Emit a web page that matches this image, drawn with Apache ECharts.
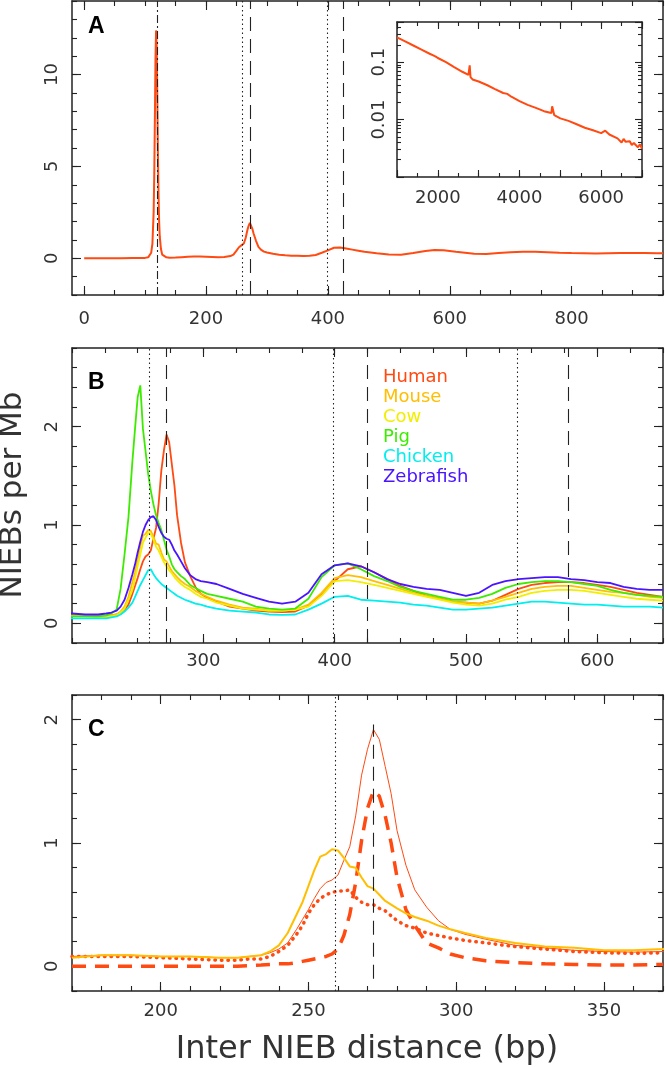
<!DOCTYPE html>
<html><head><meta charset="utf-8">
<script src="https://cdn.jsdelivr.net/npm/echarts@6/dist/echarts.min.js"></script>
<style>html,body{margin:0;padding:0;background:#fff}#c{width:665px;height:1067px}</style>
</head><body><div id="c"></div>
<script>
// ================= DATA =================
// Panel A: human inter-NIEB distance distribution (0-950 bp)
const distA = [0,20,40,60,80,90,100,105,108,110,112,114,115,116,117,118,119,120,121,122,123,124,126,128,130,135,140,150,160,170,180,190,200,210,220,230,240,245,250,254,258,262,265,268,270,272,274,276,278,282,286,290,295,300,310,320,330,340,350,360,370,380,390,400,410,420,430,440,450,460,480,500,520,540,560,575,590,610,640,660,680,700,720,740,760,780,800,820,840,860,880,900,920,940,950];
const nieba = [0,0,0,0,0.01,0.01,0.02,0.05,0.15,0.3,0.8,2.5,4.5,7.5,10.8,12.4,11.5,8.8,5.8,3.5,2.0,1.2,0.5,0.2,0.1,0.05,0.03,0.04,0.06,0.08,0.09,0.09,0.08,0.07,0.06,0.07,0.12,0.2,0.42,0.6,0.7,0.8,1.1,1.55,1.78,1.93,1.85,1.6,1.35,0.95,0.62,0.47,0.36,0.31,0.24,0.19,0.16,0.14,0.13,0.12,0.13,0.18,0.3,0.43,0.57,0.58,0.53,0.47,0.41,0.35,0.27,0.2,0.19,0.28,0.4,0.45,0.43,0.35,0.25,0.23,0.28,0.33,0.36,0.36,0.33,0.3,0.28,0.27,0.26,0.27,0.28,0.29,0.28,0.27,0.27];
// Panel A inset: long range tail (log scale)
const distInset = [1000,1200,1400,1600,1800,1900,1920,1950,2000,2200,2400,2600,2750,2780,2800,2850,3000,3200,3400,3600,3700,3800,4000,4200,4400,4600,4780,4800,4850,5000,5200,5400,5600,5800,6000,6100,6200,6400,6500,6550,6600,6700,6750,6800,6900,6950,7000];
const niebInset = [0.27,0.23,0.195,0.165,0.14,0.13,0.14,0.125,0.118,0.1,0.082,0.068,0.06,0.088,0.055,0.05,0.046,0.04,0.034,0.029,0.028,0.025,0.021,0.018,0.016,0.014,0.013,0.017,0.012,0.0105,0.0095,0.0083,0.0072,0.0065,0.0058,0.0064,0.0055,0.0047,0.004,0.0046,0.0041,0.0042,0.0036,0.0039,0.0033,0.0037,0.0031];

// Panels B and C: shared distance grid
const dist = [170,180,190,200,210,220,226,230,234,237,240,243,246,248,250,252,254,256,258,260,262,264,266,268,270,272,274,276,278,280,283,286,290,294,298,303,310,320,330,340,350,360,370,380,390,400,410,420,430,440,450,460,470,480,490,500,510,520,530,540,550,560,570,580,590,600,610,620,630,640,650];
const human = [0.08,0.09,0.09,0.08,0.08,0.07,0.07,0.08,0.09,0.11, 0.14,0.19,0.30,0.38,0.46,0.55,0.63,0.68,0.70,0.74,0.86,0.97,1.22,1.55,1.76,1.92,1.84,1.62,1.40,1.10, 0.82,0.62,0.48,0.37,0.30,0.26, 0.22,0.17,0.15,0.13,0.12,0.115,0.12,0.18,0.29,0.43, 0.55,0.58,0.52,0.45,0.38,0.33,0.28,0.25,0.22,0.21, 0.20,0.23,0.29,0.35,0.39,0.41,0.42,0.42,0.41,0.39, 0.37,0.34,0.31,0.29,0.27];
const mouse = [0.07,0.09,0.09,0.08,0.08,0.07,0.07,0.08,0.09,0.12, 0.17,0.27,0.42,0.52,0.65,0.78,0.89,0.91,0.95,0.94,0.88,0.81,0.80,0.72,0.65,0.63,0.58,0.53,0.50,0.47, 0.43,0.40,0.37,0.33,0.30,0.27, 0.23,0.19,0.16,0.15,0.13,0.13,0.14,0.19,0.31,0.46, 0.49,0.47,0.43,0.39,0.35,0.31,0.28,0.25,0.22,0.21, 0.20,0.23,0.27,0.31,0.35,0.37,0.38,0.38,0.36,0.34, 0.32,0.31,0.29,0.27,0.26];
const cow = [0.06,0.07,0.07,0.07,0.07,0.06,0.06,0.07,0.08,0.11, 0.15,0.24,0.34,0.46,0.58,0.70,0.82,0.87,0.92,0.91,0.85,0.78,0.74,0.68,0.62,0.58,0.54,0.51,0.47,0.44, 0.40,0.37,0.34,0.30,0.27,0.25, 0.21,0.18,0.15,0.14,0.13,0.13,0.14,0.17,0.28,0.43, 0.44,0.42,0.39,0.36,0.33,0.30,0.27,0.24,0.21,0.19, 0.18,0.20,0.24,0.27,0.31,0.33,0.34,0.34,0.33,0.31, 0.29,0.27,0.25,0.24,0.23];
const pig = [0.07,0.07,0.07,0.07,0.07,0.07,0.08,0.10,0.14,0.35, 0.70,1.08,1.65,1.98,2.30,2.42,1.98,1.75,1.52,1.35,1.21,1.10,1.02,0.95,0.85,0.75,0.68,0.60,0.55,0.52, 0.48,0.45,0.39,0.36,0.33,0.30, 0.28,0.25,0.22,0.17,0.15,0.14,0.15,0.25,0.47,0.59, 0.61,0.55,0.48,0.43,0.37,0.33,0.30,0.27,0.24,0.24, 0.26,0.30,0.36,0.40,0.42,0.43,0.43,0.42,0.40,0.38, 0.34,0.31,0.29,0.28,0.27];
const chicken = [0.05,0.05,0.05,0.05,0.05,0.05,0.05,0.06,0.07,0.09, 0.12,0.16,0.21,0.27,0.33,0.39,0.44,0.49,0.54,0.55,0.50,0.46,0.43,0.40,0.38,0.36,0.34,0.32,0.30,0.28, 0.26,0.24,0.22,0.20,0.19,0.17, 0.15,0.13,0.12,0.11,0.09,0.085,0.09,0.14,0.20,0.27, 0.28,0.24,0.23,0.22,0.21,0.19,0.18,0.16,0.14,0.14, 0.15,0.16,0.18,0.20,0.22,0.22,0.21,0.20,0.19,0.19, 0.18,0.17,0.17,0.17,0.16];
const zebrafish = [0.10,0.10,0.10,0.10,0.09,0.09,0.10,0.11,0.13,0.17, 0.24,0.36,0.50,0.60,0.72,0.83,0.93,1.00,1.05,1.08,1.09,1.05,0.98,0.92,0.88,0.86,0.85,0.80,0.74,0.70, 0.63,0.56,0.49,0.45,0.43,0.42, 0.40,0.35,0.30,0.26,0.22,0.20,0.22,0.31,0.50,0.59, 0.61,0.58,0.52,0.45,0.40,0.37,0.35,0.34,0.31,0.28, 0.31,0.39,0.43,0.45,0.46,0.47,0.47,0.45,0.44,0.42, 0.41,0.37,0.35,0.34,0.34];
// Panel C extra human subsets (170-370 bp, first 43 grid points)
const humanDotted = [0.08,0.08,0.08,0.07,0.06,0.05,0.05,0.06,0.06,0.08, 0.12,0.17,0.26,0.33,0.43,0.50,0.55,0.58,0.60,0.61,0.61,0.62,0.56,0.52,0.50,0.50,0.47,0.45,0.41,0.37, 0.33,0.31,0.27,0.25,0.23,0.21, 0.19,0.16,0.14,0.12,0.11,0.105,0.11];
const humanDashed = [0.0,0.0,0.0,0.0,0.0,0.0,0.0,0.005,0.01,0.015, 0.02,0.02,0.03,0.04,0.05,0.06,0.07,0.08,0.10,0.14,0.25,0.42,0.68,1.02,1.28,1.42,1.38,1.22,1.00,0.72, 0.46,0.33,0.19,0.15,0.10,0.07, 0.045,0.03,0.02,0.015,0.01,0.01,0.015];

const speciesNames = ['Human','Mouse','Cow','Pig','Chicken','Zebrafish'];
// reference positions (bp)
const refDashDotA = [120];
const refDottedA = [259, 399];
const refDashedA = [272, 425];
const refDottedB = [259, 399, 539];
const refDashedB = [272, 425, 578];
const refDottedC = [259];
const refDashedC = [272];
const refDashedCSpan = [-0.1, 1.96];
// tick labels
const aXLabels = [0,200,400,600,800];
const aYLabels = [0,5,10];
const inXLabels = [2000,4000,6000];
const inYLabels = [0.01,0.1];
const bXLabels = [300,400,500,600];
const bYLabels = [0,1,2];
const cXLabels = [200,250,300,350];
const cYLabels = [0,1,2];

// ================= STYLE / BUILD =================
const FRAME = '#222', TXT = '#333', FONT = 'DejaVu Sans';
const COLORS = {Human:'#FF4A12', Mouse:'#FFBE00', Cow:'#F2EE00', Pig:'#3CEB00', Chicken:'#00EEEE', Zebrafish:'#4A14FF'};
const ORANGE = '#FF4A12';
const speciesData = {Human:human, Mouse:mouse, Cow:cow, Pig:pig, Chicken:chicken, Zebrafish:zebrafish};

function range(a,b,s){const r=[];for(let v=a;v<=b+1e-9;v+=s)r.push(Math.round(v*1000)/1000);return r;}
function zip(xs, ys){return ys.map((y,i)=>[xs[i], y]);}

const xAxes = [], yAxes = [];
function sideAxes(arr, dir, gi, min, max, majors, minors, labels, lab, lens){
  const pos = dir==='x' ? ['bottom','top'] : ['left','right'];
  const mainIndex = arr.length;
  pos.forEach((p,k)=>{
    arr.push({type:'value', gridIndex:gi, position:p, min, max,
      axisLine:{show:true, onZero:false, lineStyle:{color:FRAME, width:1.5}},
      axisTick:{show:true, inside:true, length:lens[0], customValues:majors, lineStyle:{color:FRAME, width:1.1}},
      axisLabel: k===0 ? Object.assign({show:true, customValues:labels, color:TXT, fontFamily:FONT, fontSize:18, formatter:v=>String(v)}, lab) : {show:false},
      splitLine:{show:false}});
    arr.push({type:'value', gridIndex:gi, position:p, min, max,
      axisLine:{show:false, onZero:false},
      axisTick:{show:true, inside:true, length:lens[1], customValues:minors, lineStyle:{color:FRAME, width:1.1}},
      axisLabel:{show:false}, splitLine:{show:false}});
  });
  return mainIndex;
}

const grids = [
  {left:72, top:1, width:591, height:294},    // A
  {left:397, top:22, width:245, height:155},  // inset
  {left:72, top:348, width:591, height:295},  // B
  {left:72, top:695, width:591, height:296}   // C
].map(g=>Object.assign({outerBoundsMode:'none', containLabel:false}, g));

const yLab = {rotate:90, margin:11};
// A
const axA = sideAxes(xAxes,'x',0,-20,950,aXLabels,range(0,950,50),aXLabels,{margin:15},[9,5]);
const ayA = sideAxes(yAxes,'y',0,-2,14,aYLabels,range(-2,14,1),aYLabels,yLab,[9,5]);
// inset
const axIn = sideAxes(xAxes,'x',1,1000,7000,range(1000,7000,1000),range(1000,7000,500),inXLabels,{margin:12},[7,4]);
const ayIn = yAxes.length;
['left','right'].forEach((p,k)=>{
  yAxes.push({type:'log', logBase:10, gridIndex:1, position:p, min:0.001, max:0.5,
    axisLine:{show:true, onZero:false, lineStyle:{color:FRAME, width:1.5}},
    axisTick:{show:true, inside:true, length:7, lineStyle:{color:FRAME, width:1.1}},
    minorTick:{show:true, splitNumber:9, length:4, lineStyle:{color:FRAME, width:1.1}},
    axisLabel: k===0 ? {show:true, rotate:90, margin:9, color:TXT, fontFamily:FONT, fontSize:18,
      formatter:v=>{const m=inYLabels.find(t=>Math.abs(Math.log10(v)-Math.log10(t))<1e-6);return m===undefined?'':String(m);}} : {show:false},
    splitLine:{show:false}, minorSplitLine:{show:false}});
});
// B
const axB = sideAxes(xAxes,'x',2,200,650,bXLabels,range(200,650,25),bXLabels,{margin:9},[9,5]);
const ayB = sideAxes(yAxes,'y',2,-0.2,2.8,bYLabels,range(-0.2,2.8,0.2),bYLabels,yLab,[9,5]);
// C
const axC = sideAxes(xAxes,'x',3,170,370,cXLabels,range(170,370,10),cXLabels,{margin:11},[9,5]);
const ayC = sideAxes(yAxes,'y',3,-0.2,2.2,cYLabels,range(-0.2,2.2,0.2),cYLabels,yLab,[9,5]);

const DOT = [1.5,3], DASH = [14,8], DASHDOT = [8,3,2,3];
function vline(x, type){return {xAxis:x, lineStyle:{type, color:FRAME, width:1.1}};}
const mlBase = {silent:true, symbol:['none','none'], label:{show:false}, animation:false};

const series = [];
series.push({type:'line', name:'A', xAxisIndex:axA, yAxisIndex:ayA, data:zip(distA,nieba), showSymbol:false, symbol:'none',
  lineStyle:{color:ORANGE, width:2}, z:3,
  markLine:Object.assign({data:[...refDashDotA.map(x=>vline(x,DASHDOT)), ...refDottedA.map(x=>vline(x,DOT)), ...refDashedA.map(x=>vline(x,DASH))]}, mlBase)});
series.push({type:'line', name:'Inset', xAxisIndex:axIn, yAxisIndex:ayIn, data:zip(distInset,niebInset), showSymbol:false, symbol:'none',
  lineStyle:{color:ORANGE, width:2}});
speciesNames.forEach((n,i)=>{
  const s = {type:'line', name:n, xAxisIndex:axB, yAxisIndex:ayB, data:zip(dist,speciesData[n]), showSymbol:false, symbol:'none',
    lineStyle:{color:COLORS[n], width:1.8}, itemStyle:{color:COLORS[n]}};
  if(i===0) s.markLine = Object.assign({data:[...refDottedB.map(x=>vline(x,DOT)), ...refDashedB.map(x=>vline(x,DASH))]}, mlBase);
  series.push(s);
});
const distC = dist.slice(0, humanDashed.length);
series.push({type:'line', name:'C dashed', xAxisIndex:axC, yAxisIndex:ayC, data:zip(distC,humanDashed), showSymbol:false, symbol:'none',
  lineStyle:{color:ORANGE, width:3.5, type:[14,9]},
  markLine:Object.assign({data:[...refDottedC.map(x=>vline(x,DOT)),
    ...refDashedC.map(x=>[{coord:[x,refDashedCSpan[0]], lineStyle:{type:DASH,color:FRAME,width:1.1}},{coord:[x,refDashedCSpan[1]]}])]}, mlBase)});
series.push({type:'line', name:'C dotted', xAxisIndex:axC, yAxisIndex:ayC, data:zip(distC,humanDotted), showSymbol:false, symbol:'none',
  lineStyle:{color:ORANGE, width:3.5, type:[0.5,6], cap:'round'}});
series.push({type:'line', name:'C human', xAxisIndex:axC, yAxisIndex:ayC, data:zip(dist,human), showSymbol:false, symbol:'none',
  lineStyle:{color:ORANGE, width:1}});
series.push({type:'line', name:'C mouse', xAxisIndex:axC, yAxisIndex:ayC, data:zip(dist,mouse), showSymbol:false, symbol:'none',
  lineStyle:{color:COLORS.Mouse, width:2}});

function label(t, x, y, size, bold){return {type:'text', x, y, style:{text:t, fill:'#000', font:(bold?'bold ':'')+size+'px "Liberation Sans", Arial', textAlign:'left', textVerticalAlign:'middle'}};}

const option = {
  animation:false,
  grid:grids, xAxis:xAxes, yAxis:yAxes, series,
  legend:{orient:'vertical', left:377, top:367, padding:0, itemGap:0, itemWidth:0, itemHeight:0, selectedMode:false,
    itemStyle:{opacity:0}, lineStyle:{opacity:0},
    textStyle:{fontFamily:FONT, fontSize:18, lineHeight:20, padding:0},
    data:speciesNames.map(n=>({name:n, textStyle:{color:COLORS[n]}}))},
  graphic:[
    label('A', 88, 27, 23, true), label('B', 88, 383, 23, true), label('C', 88, 730, 23, true),
    {type:'text', x:13, y:495, rotation:Math.PI/2, style:{text:'NIEBs per Mb', fill:TXT, font:'31px "DejaVu Sans"', textAlign:'center', textVerticalAlign:'middle'}},
    {type:'text', x:367, y:1050, style:{text:'Inter NIEB distance (bp)', fill:TXT, font:'32px "DejaVu Sans"', textAlign:'center', textVerticalAlign:'middle'}}
  ]
};
const chart = echarts.init(document.getElementById('c'), null, {renderer:'canvas'});
chart.setOption(option);
</script></body></html>
